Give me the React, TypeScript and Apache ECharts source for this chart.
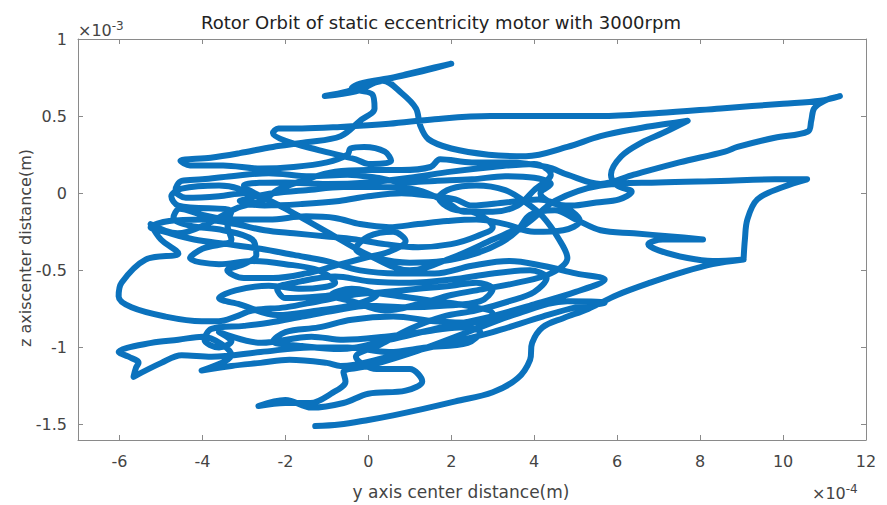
import React, { useEffect, useRef } from "react";
import * as echarts from "echarts";

// y axis center distance (×1e-4 m), z axis center distance (×1e-3 m)
const segBottomRight: [number, number][] = [
  [-1.28, -1.51], [-0.7, -1.5], [0.0, -1.47], [0.6, -1.44], [1.3, -1.4], [2.1, -1.35], [3.0, -1.29], [3.6, -1.2],
  [3.9, -1.08], [3.95, -0.97], [4.2, -0.87], [4.7, -0.81], [5.3, -0.75], [6.0, -0.66], [6.8, -0.58], [7.6, -0.51],
  [8.3, -0.46], [9.05, -0.43], [8.3, -0.44], [7.7, -0.42], [7.0, -0.37], [6.75, -0.33], [7.1, -0.3], [7.6, -0.3],
  [8.07, -0.3], [7.3, -0.28], [6.4, -0.26], [5.6, -0.24],
];

const segMiddle: [number, number][] = [
  [5.0, -0.17], [4.5, -0.11], [3.9, -0.14], [3.6, -0.24], [3.2, -0.32], [2.6, -0.39], [1.8, -0.44], [1.0, -0.45],
  [0.2, -0.42], [-0.3, -0.36], [0.0, -0.28], [0.6, -0.25], [0.9, -0.31], [0.5, -0.38], [-0.1, -0.42], [-0.8, -0.47],
  [-1.5, -0.52], [-2.3, -0.55], [-3.0, -0.55], [-3.4, -0.5], [-3.0, -0.46], [-2.7, -0.4], [-2.8, -0.3], [-3.5, -0.24],
  [-4.3, -0.21], [-4.7, -0.16], [-4.55, -0.1], [-4.0, -0.14], [-3.3, -0.17], [-2.4, -0.17], [-1.5, -0.15], [-0.8, -0.16],
  [-0.2, -0.2], [0.5, -0.22], [1.2, -0.2], [1.9, -0.18], [2.6, -0.17], [3.3, -0.2], [4.0, -0.25], [4.7, -0.24],
  [5.1, -0.18], [4.8, -0.1], [4.1, -0.04], [3.3, -0.06], [2.5, -0.08], [2.1, -0.04], [1.6, -0.02], [0.8, 0.0],
  [0.0, -0.02], [-0.7, -0.05], [-1.6, -0.07], [-2.5, -0.08], [-3.1, -0.05], [-2.8, -0.03], [-3.0, 0.0], [-3.6, -0.02],
  [-4.4, -0.03], [-4.65, 0.02], [-4.5, 0.08], [-4.0, 0.09], [-3.3, 0.11], [-2.4, 0.13], [-1.4, 0.11], [-0.5, 0.12],
  [0.2, 0.1], [0.9, 0.07], [1.6, 0.08], [2.5, 0.09], [3.3, 0.11], [4.0, 0.1], [4.4, 0.06], [4.15, 0.0],
  [4.4, -0.06], [4.9, -0.08], [5.5, -0.06], [6.05, -0.04], [6.35, 0.01], [6.0, 0.05], [5.85, 0.12], [6.1, 0.24],
  [6.6, 0.33], [7.1, 0.39], [7.7, 0.47],
];

const segTop: [number, number][] = [
  [7.2, 0.45], [6.5, 0.42], [5.6, 0.37], [4.8, 0.3], [3.8, 0.24], [2.9, 0.25], [2.0, 0.29], [1.45, 0.35],
  [1.25, 0.44], [1.15, 0.55], [0.8, 0.65], [0.35, 0.73], [-0.3, 0.66], [-1.05, 0.63], [-0.5, 0.66], [0.2, 0.72],
  [0.9, 0.77], [1.5, 0.81], [2.0, 0.84], [1.3, 0.79], [0.6, 0.75], [-0.2, 0.71], [-0.4, 0.68], [0.1, 0.64],
  [0.15, 0.55], [-0.2, 0.47], [-0.67, 0.37], [-1.5, 0.33], [-2.3, 0.3], [-3.1, 0.26], [-3.8, 0.23], [-4.53, 0.21],
  [-4.3, 0.18], [-3.5, 0.18], [-2.6, 0.16], [-1.8, 0.17], [-1.0, 0.2], [-0.5, 0.25], [-0.43, 0.29], [-0.1, 0.3],
  [0.4, 0.27], [0.55, 0.21], [0.0, 0.19], [-0.3, 0.22], [-1.2, 0.28], [-2.0, 0.34], [-2.3, 0.39], [-2.17, 0.42],
  [-1.6, 0.42], [-0.67, 0.43], [0.5, 0.45], [1.6, 0.48], [2.94, 0.5], [4.3, 0.5], [5.6, 0.5], [7.0, 0.52],
  [8.5, 0.55], [10.0, 0.58], [10.9, 0.6], [11.37, 0.63], [11.0, 0.6], [10.75, 0.55], [10.68, 0.47], [10.6, 0.4],
  [9.8, 0.36], [8.9, 0.3], [8.6, 0.27], [7.5, 0.2], [6.4, 0.12], [5.6, 0.06], [4.8, 0.12], [4.31, 0.17],
  [3.4, 0.2], [2.5, 0.2], [1.73, 0.22], [1.5, 0.17],
];

const segLowerLeft: [number, number][] = [
  [0.8, 0.15], [0.0, 0.15], [-0.8, 0.14], [-1.6, 0.08], [-2.2, 0.02], [-2.5, -0.04], [-3.2, -0.1], [-3.9, -0.2],
  [-4.6, -0.26], [-5.25, -0.2], [-5.0, -0.3], [-4.58, -0.39], [-5.37, -0.43], [-5.95, -0.58], [-6.02, -0.67], [-5.71, -0.74],
  [-4.89, -0.8], [-4.02, -0.83], [-3.61, -0.83], [-3.2, -0.8], [-2.8, -0.76], [-2.0, -0.74], [-1.2, -0.7], [-0.4, -0.66],
  [0.4, -0.64], [1.2, -0.62], [2.0, -0.6], [2.6, -0.58], [3.0, -0.62], [2.7, -0.7], [1.8, -0.73], [0.9, -0.74],
  [0.0, -0.73], [-0.8, -0.76], [-1.6, -0.8], [-2.4, -0.84], [-3.0, -0.86], [-3.78, -0.88], [-3.95, -0.95], [-3.6, -1.0],
  [-3.3, -0.96], [-3.6, -0.9], [-2.58, -0.97], [-1.37, -0.93], [-0.6, -0.95], [0.4, -0.93], [1.3, -0.9], [2.2, -0.87],
  [2.7, -0.9], [2.4, -0.97], [1.4, -1.0], [0.5, -1.03], [-0.5, -1.0], [-1.4, -1.0], [-2.6, -1.03], [-3.78, -1.06],
  [-4.5, -1.05], [-4.99, -1.1], [-5.66, -1.19], [-5.6, -1.13], [-5.54, -1.1], [-5.78, -1.06], [-6.02, -1.03], [-5.23, -0.97],
  [-4.58, -0.95], [-4.0, -0.93], [-3.3, -1.05], [-4.02, -1.15], [-3.3, -1.12], [-2.6, -1.1], [-1.9, -1.08], [-1.0, -1.1],
  [-0.67, -1.12], [0.5, -1.06], [1.8, -0.98], [3.0, -0.9], [4.2, -0.8], [5.0, -0.74], [5.7, -0.71], [4.8, -0.7],
  [3.6, -0.78], [2.4, -0.9], [1.2, -1.02], [0.0, -1.12],
  [-0.6, -1.16], [-0.55, -1.22], [-0.9, -1.3], [-1.4, -1.36], [-2.0, -1.36], [-2.65, -1.38], [-2.0, -1.34], [-1.37, -1.39],
  [-0.6, -1.36], [0.0, -1.3], [0.9, -1.28], [1.3, -1.22], [1.0, -1.14], [0.2, -1.14], [-0.3, -1.06], [0.3, -0.98],
  [1.0, -0.88], [1.8, -0.8], [2.6, -0.76], [3.4, -0.7], [4.0, -0.64], [4.3, -0.55], [3.9, -0.5], [3.0, -0.52],
  [2.0, -0.56], [1.0, -0.58], [0.0, -0.57],
];

const segDense: [number, number][] = [
  [-0.8, -0.54], [-1.6, -0.57], [-2.2, -0.62], [-2.0, -0.68], [-1.2, -0.67], [-0.2, -0.64], [0.8, -0.67], [1.6, -0.7],
  [2.4, -0.73], [3.0, -0.78], [2.6, -0.84], [1.6, -0.83], [0.6, -0.8], [-0.4, -0.82], [-1.2, -0.87], [-2.0, -0.9],
  [-2.3, -0.96], [-1.6, -0.99], [-0.67, -1.01], [0.5, -0.95], [1.6, -0.88], [2.8, -0.81], [4.0, -0.72], [5.0, -0.64],
  [5.7, -0.56], [5.0, -0.52], [4.2, -0.47], [3.4, -0.44], [2.5, -0.47], [1.6, -0.52], [0.7, -0.52], [-0.2, -0.5],
  [-1.0, -0.44], [-1.8, -0.4], [-2.6, -0.36], [-3.4, -0.33], [-4.2, -0.3], [-4.9, -0.25], [-5.25, -0.22], [-4.8, -0.18],
  [-4.0, -0.17], [-3.2, -0.2], [-2.5, -0.24], [-1.8, -0.26], [-1.0, -0.28], [-0.3, -0.3], [0.4, -0.33], [1.2, -0.35],
  [2.0, -0.33], [2.6, -0.28], [3.0, -0.22], [2.6, -0.13], [2.0, -0.1], [1.7, -0.03], [2.0, 0.03], [2.6, 0.05],
  [3.3, 0.02], [3.8, -0.06], [4.2, -0.15], [4.6, -0.3], [4.8, -0.42], [4.4, -0.52], [3.6, -0.58], [2.8, -0.62],
  [2.0, -0.66], [1.2, -0.72], [0.4, -0.76], [-0.4, -0.7], [-0.9, -0.66], [-0.4, -0.62], [0.2, -0.66], [-0.3, -0.72],
  [-1.2, -0.76], [-2.2, -0.79], [-3.1, -0.72], [-3.6, -0.68], [-3.2, -0.63], [-2.4, -0.6], [-1.6, -0.62], [-0.8, -0.58],
  [-1.2, -0.5], [-2.0, -0.46], [-2.8, -0.44], [-3.6, -0.46], [-4.3, -0.42], [-4.0, -0.36], [-3.3, -0.3], [-3.4, -0.2],
  [-3.3, -0.12], [-4.58, -0.08], [-4.75, -0.02], [-4.5, 0.03], [-3.6, 0.05], [-3.13, 0.03], [-2.82, -0.02], [-2.3, 0.0],
  [-1.5, 0.02], [-0.6, 0.04], [0.3, 0.04], [1.2, 0.02], [1.9, -0.06], [2.3, -0.12], [3.0, -0.12], [3.6, -0.08],
  [4.0, 0.02], [4.4, 0.12], [4.0, 0.19], [3.0, 0.17], [2.0, 0.14], [1.0, 0.1], [0.0, 0.07], [-1.0, 0.06],
  [-2.0, 0.07], [-3.0, 0.05], [-2.0, -0.1], [-1.0, -0.25], [0.0, -0.4],
];

const segRightEnd: [number, number][] = [
  [1.0, -0.5], [2.0, -0.42], [3.0, -0.3], [3.8, -0.2], [4.5, -0.05], [5.6, 0.05], [7.0, 0.07], [8.5, 0.08],
  [9.8, 0.09], [10.58, 0.09], [10.0, 0.04], [9.38, -0.04], [9.14, -0.17], [9.08, -0.3], [9.05, -0.42],
];

const xTicks = [-6, -4, -2, 0, 2, 4, 6, 8, 10, 12];
const yTicks = [-1.5, -1, -0.5, 0, 0.5, 1];

const titleText = "Rotor Orbit of static eccentricity motor with 3000rpm";
const xName = "y axis center distance(m)";
const yName = "z axiscenter distance(m)";

export default function App() {
  const ref = useRef<HTMLDivElement>(null);
  useEffect(() => {
    if (!ref.current) return;
    const chart = echarts.init(ref.current, undefined, { renderer: "svg" });
    const orbit = [...segBottomRight, ...segMiddle, ...segTop, ...segLowerLeft, ...segDense, ...segRightEnd];
    const font = "'DejaVu Sans', sans-serif";
    const axisGrey = "#8a8a8a";
    const labelCol = "#444";
    const tickBase = {
      show: true,
      inside: true,
      length: 5,
      lineStyle: { color: axisGrey, width: 1 },
    };
    const lineBase = { show: true, onZero: false, lineStyle: { color: axisGrey, width: 1 } };
    const supRich = {
      a: { fontSize: 16, fontFamily: font, fill: "#444" },
      b: { fontSize: 12, fontFamily: font, fill: "#444", verticalAlign: "top", padding: [0, 0, 9, 0] },
    };
    chart.setOption({
      animation: false,
      backgroundColor: "#fff",
      grid: { left: 78, top: 39, width: 788, height: 401, containLabel: false },
      xAxis: [
        {
          type: "value",
          min: -7,
          max: 12,
          position: "bottom",
          axisLine: lineBase,
          axisTick: { ...tickBase, customValues: xTicks },
          axisLabel: { customValues: xTicks, color: labelCol, fontSize: 16, fontFamily: font, margin: 13 },
          splitLine: { show: false },
        },
        {
          type: "value",
          min: -7,
          max: 12,
          position: "top",
          axisLine: lineBase,
          axisTick: { ...tickBase, customValues: xTicks },
          axisLabel: { show: false },
          splitLine: { show: false },
        },
      ],
      yAxis: [
        {
          type: "value",
          min: -1.6,
          max: 1,
          position: "left",
          axisLine: lineBase,
          axisTick: { ...tickBase, customValues: yTicks },
          axisLabel: { customValues: yTicks, color: labelCol, fontSize: 16, fontFamily: font, margin: 11 },
          splitLine: { show: false },
        },
        {
          type: "value",
          min: -1.6,
          max: 1,
          position: "right",
          axisLine: lineBase,
          axisTick: { ...tickBase, customValues: yTicks },
          axisLabel: { show: false },
          splitLine: { show: false },
        },
      ],
      graphic: [
        {
          type: "text",
          x: 441,
          y: 22,
          style: { text: titleText, fontSize: 18, fontFamily: font, fill: "#222", align: "center", verticalAlign: "middle" },
        },
        {
          type: "text",
          x: 461,
          y: 492,
          style: { text: xName, fontSize: 17, fontFamily: font, fill: "#444", align: "center", verticalAlign: "middle" },
        },
        {
          type: "text",
          x: 25,
          y: 248,
          rotation: Math.PI / 2,
          style: { text: yName, fontSize: 16, fontFamily: font, fill: "#444", align: "center", verticalAlign: "middle" },
        },
        {
          type: "text",
          x: 78,
          y: 30,
          style: { text: "{a|×10}{b|-3}", verticalAlign: "middle", rich: supRich },
        },
        {
          type: "text",
          x: 812,
          y: 493,
          style: { text: "{a|×10}{b|-4}", verticalAlign: "middle", rich: supRich },
        },
      ],
      series: [
        {
          type: "line",
          xAxisIndex: 0,
          yAxisIndex: 0,
          data: orbit,
          smooth: 0.35,
          showSymbol: false,
          symbol: "none",
          lineStyle: { color: "#0b72bd", width: 6, cap: "round", join: "round" },
        },
      ],
    });
    return () => chart.dispose();
  }, []);
  return <div ref={ref} style={{ width: 887, height: 505, position: "absolute", left: 0, top: 0 }} />;
}
